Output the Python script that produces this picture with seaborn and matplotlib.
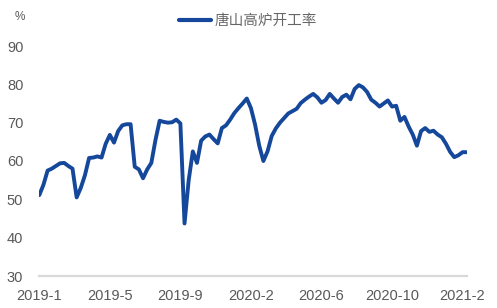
import matplotlib
matplotlib.use("Agg")
import matplotlib.pyplot as plt
import seaborn as sns
import pandas as pd
import numpy as np

# Weekly Tangshan blast-furnace utilisation (%)
values = [
    51.1, 53.8, 57.5, 58.0, 58.7, 59.4, 59.5, 58.7, 58.0, 50.5,
    53.0, 56.3, 60.8, 60.9, 61.2, 60.9, 64.5, 66.8, 64.8, 67.8,
    69.3, 69.6, 69.6, 58.5, 57.8, 55.5, 57.8, 59.5, 65.5, 70.5,
    70.2, 70.0, 70.1, 70.8, 69.8, 43.7, 55.0, 62.5, 59.5, 65.3,
    66.4, 66.9, 65.7, 64.6, 68.6, 69.3, 70.8, 72.5, 73.8, 75.0,
    76.3, 73.8, 69.5, 64.0, 60.0, 62.5, 66.5, 68.5, 70.0, 71.2,
    72.4, 73.0, 73.6, 75.1, 76.0, 76.8, 77.5, 76.6, 75.2, 75.9,
    77.5, 76.3, 75.2, 76.7, 77.3, 76.1, 78.8, 79.8, 79.2, 78.0,
    76.0, 75.2, 74.2, 75.0, 75.8, 74.2, 74.4, 70.5, 71.5, 69.0,
    66.9, 64.0, 67.8, 68.6, 67.6, 67.9, 66.9, 66.2, 64.5, 62.4,
    61.0, 61.5, 62.3, 62.3,
]
tick_labels = ["2019-1", "2019-5", "2019-9", "2020-2", "2020-6", "2020-10", "2021-2"]
tick_step = 17
series_name = "唐山高炉开工率"
y_ticks = [30, 40, 50, 60, 70, 80, 90]

df = pd.DataFrame({"idx": np.arange(len(values)), "value": values})

sns.set_style("white")
plt.rcParams["font.family"] = ["Liberation Sans Narrow", "Liberation Sans", "DejaVu Sans"]

fig = plt.figure(figsize=(4.97, 3.08), dpi=100)
ax = fig.add_axes([39.3 / 497, 1 - 276 / 308, (466.7 - 39.3) / 497, (276 - 46) / 308])

line_color = "#15489b"
sns.lineplot(data=df, x="idx", y="value", ax=ax, color=line_color, linewidth=2.8,
             label=series_name, legend=False)
for ln in ax.get_lines():
    ln.set_solid_joinstyle("round")
    ln.set_solid_capstyle("round")

ax.set_xlim(0, len(values) - 1)
ax.set_ylim(30, 90)
ax.set_yticks(y_ticks)
ax.set_xticks([i * tick_step for i in range(len(tick_labels))])
ax.set_xticklabels(tick_labels)
ax.set_xlabel("")
ax.set_ylabel("")

for s in ["top", "right", "left"]:
    ax.spines[s].set_visible(False)
ax.spines["bottom"].set_color("#d9d9d9")
ax.spines["bottom"].set_linewidth(1.6)

txt_color = "#595959"
ax.tick_params(axis="y", length=0, pad=11.5, labelsize=10.5, labelcolor=txt_color)
ax.tick_params(axis="x", direction="in", length=4, width=1, color="#d9d9d9",
               pad=9, labelsize=10.5, labelcolor=txt_color)

fig.text(20 / 497, 1 - 17 / 308, "%", ha="center", va="center", fontsize=8.5,
         color=txt_color, family=["Liberation Sans", "DejaVu Sans"])

handles, labels = ax.get_legend_handles_labels()
leg = fig.legend(handles, labels, loc="center", bbox_to_anchor=(248 / 497, 1 - 21 / 308),
                 frameon=False, handlelength=2.2, handletextpad=0.2,
                 prop={"family": ["Noto Sans CJK SC", "DejaVu Sans"], "size": 10.5,
                       "weight": "light"})
for t in leg.get_texts():
    t.set_color("#666666")
for h in leg.get_lines():
    h.set_linewidth(3)

fig.savefig("out.png", dpi=100)
